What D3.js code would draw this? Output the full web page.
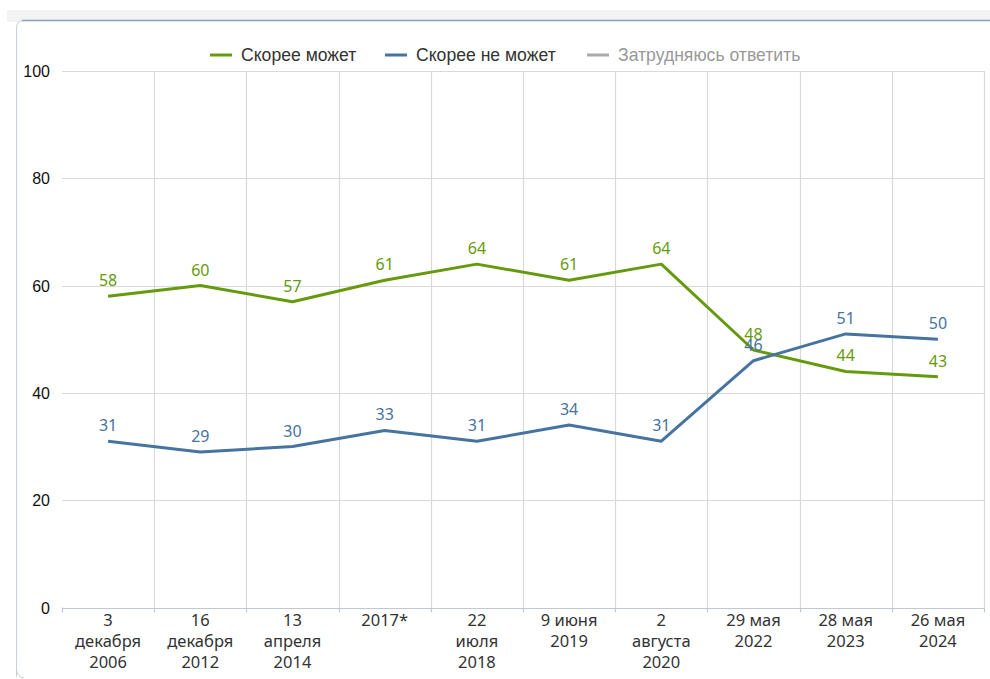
<!DOCTYPE html>
<html><head><meta charset="utf-8">
<script src="https://cdn.jsdelivr.net/npm/d3@7"></script>
<style>body{margin:0;background:#fff;}svg{display:block;}</style>
</head><body>
<svg id="c" width="990" height="679"></svg>
<script>
const categories = [
  ["3","декабря","2006"],
  ["16","декабря","2012"],
  ["13","апреля","2014"],
  ["2017*"],
  ["22","июля","2018"],
  ["9 июня","2019"],
  ["2","августа","2020"],
  ["29 мая","2022"],
  ["28 мая","2023"],
  ["26 мая","2024"]
];
const seriesNames = ["Скорее может","Скорее не может","Затрудняюсь ответить"];
const canValues = [58,60,57,61,64,61,64,48,44,43];
const cannotValues = [31,29,30,33,31,34,31,46,51,50];
const yTicks = [0,20,40,60,80,100];

(function(){
const svg = d3.select("#c");
svg.append("rect").attr("x",7).attr("y",10).attr("width",990).attr("height",12).attr("fill","#f3f3f3");
svg.append("path").attr("d","M16.5,677 L16.5,28 Q16.5,20.5 24,20.5 L995,20.5")
  .attr("fill","#fff").attr("stroke","#c9d0d8").attr("stroke-width",1);
svg.append("line").attr("x1",22).attr("x2",990).attr("y1",20.5).attr("y2",20.5).attr("stroke","#8fa2b7").attr("stroke-width",1.5);
svg.append("path").attr("d","M16.5,668 Q16.5,677 24,678").attr("fill","none").attr("stroke","#c9d0d8");

const pL=62, pR=984, pT=71, pB=607.5;
const x = d3.scaleBand().domain(d3.range(categories.length)).range([pL,pR]).padding(0);
const y = d3.scaleLinear().domain([0,100]).range([pB,pT]);

svg.append("g").selectAll("line").data(yTicks.filter(t=>t>0)).join("line")
  .attr("x1",pL).attr("x2",pR).attr("y1",d=>Math.round(y(d))+0.5).attr("y2",d=>Math.round(y(d))+0.5)
  .attr("stroke","#d9d9d9").attr("stroke-width",1.2);
const bounds = d3.range(categories.length+1).map(i=> i<categories.length ? x(i) : pR);
svg.append("g").selectAll("line").data(bounds.slice(1)).join("line")
  .attr("x1",d=>Math.round(d)+0.5).attr("x2",d=>Math.round(d)+0.5).attr("y1",pT).attr("y2",pB)
  .attr("stroke","#d9d9d9").attr("stroke-width",1.2);
svg.append("line").attr("x1",pL).attr("x2",pR).attr("y1",Math.round(pB)+0.5).attr("y2",Math.round(pB)+0.5)
  .attr("stroke","#c0c8d2").attr("stroke-width",1.2);
svg.append("g").selectAll("line").data(bounds).join("line")
  .attr("x1",d=>Math.round(d)+0.5).attr("x2",d=>Math.round(d)+0.5).attr("y1",pB).attr("y2",pB+5)
  .attr("stroke","#c0c8d2").attr("stroke-width",1.2);

svg.append("g").selectAll("text").data(yTicks).join("text")
  .attr("x",50).attr("y",d=>y(d)+6).attr("text-anchor","end")
  .attr("font-family","Liberation Sans, Arial, sans-serif").attr("font-size",16).attr("fill","#111")
  .text(d=>d);

const xl = svg.append("g").selectAll("text").data(categories).join("text")
  .attr("text-anchor","middle").attr("font-family","Noto Sans, sans-serif").attr("font-size",16.5).attr("fill","#333");
xl.each(function(lines,i){
  const t=d3.select(this);
  lines.forEach((s,j)=>{
    t.append("tspan").attr("x",x(i)+x.bandwidth()/2).attr("y",626+j*21).text(s);
  });
});

const series = [
  {name:seriesNames[0], values:canValues, color:"#669a0e"},
  {name:seriesNames[1], values:cannotValues, color:"#4773a0"}
];
const line = d3.line().x((d,i)=>x(i)+x.bandwidth()/2).y(d=>y(d));
series.forEach(s=>{
  svg.append("path").attr("d",line(s.values)).attr("fill","none").attr("stroke",s.color)
    .attr("stroke-width",3).attr("stroke-linejoin","round");
});
series.forEach(s=>{
  svg.append("g").selectAll("text").data(s.values).join("text")
    .attr("x",(d,i)=>x(i)+x.bandwidth()/2).attr("y",d=>y(d)-10)
    .attr("text-anchor","middle").attr("font-family","Noto Sans, sans-serif").attr("font-size",16)
    .attr("fill",s.color).text(d=>d);
});

const legend = [
  {name:seriesNames[0], color:"#669a0e", tc:"#333", x:210},
  {name:seriesNames[1], color:"#4773a0", tc:"#333", x:385},
  {name:seriesNames[2], color:"#aaaaaa", tc:"#999", x:587}
];
const lg = svg.append("g");
legend.forEach(l=>{
  lg.append("line").attr("x1",l.x).attr("x2",l.x+22).attr("y1",55).attr("y2",55).attr("stroke",l.color).attr("stroke-width",3);
  lg.append("text").attr("x",l.x+31).attr("y",61).attr("font-family","Liberation Sans, Arial, sans-serif")
    .attr("font-size",17.6).attr("fill",l.tc).text(l.name);
});
})();
</script>
</body></html>
